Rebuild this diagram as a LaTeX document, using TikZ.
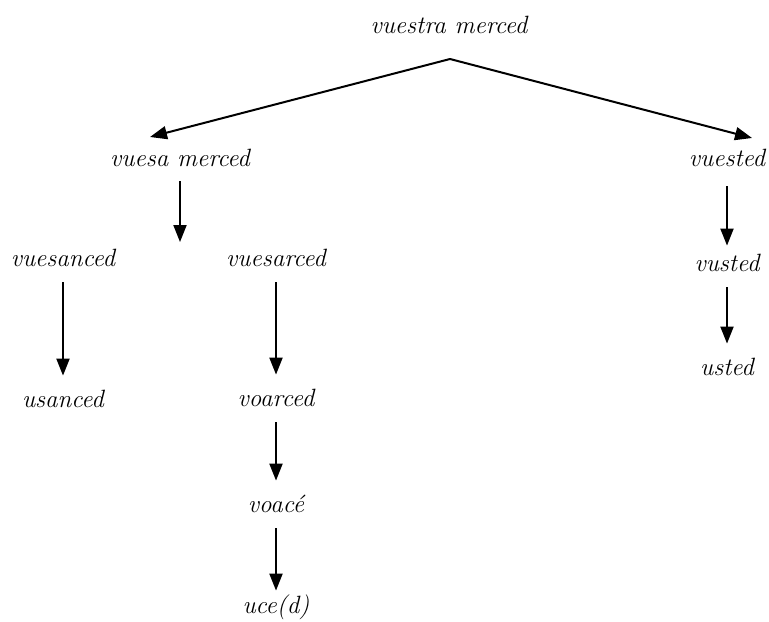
\documentclass[tikz,border=0pt]{standalone}
\usepackage{tikz}
\usetikzlibrary{arrows.meta}

\begin{document}
\begin{tikzpicture}[x=0.5pt, y=-0.5pt,
	word/.style={font=\itshape\fontsize{12.5}{15}\selectfont, inner sep=0pt, text height=8pt, text depth=2pt, anchor=base},
	tip/.style={-{Triangle[length=8.5pt, width=6.5pt]}, line width=1pt},
	down/.style={tip, shorten <=6pt, shorten >=7.5pt}]
	\useasboundingbox (0,0) rectangle (769,621);
	\foreach \n/\x/\y/\t in {top/449/33/{vuestra merced}, vuesa/180/166/{vuesa merced}, vuested/727/166/{vuested},
		vuesanced/63/266/{vuesanced}, vuesarced/276/266/{vuesarced}, usanced/63/407/{usanced},
		voarced/276/406/{voarced}, voace/276/512/{voacé}, uced/276/613/{uce(d)},
		vusted/727/271/{vusted}, usted/727/375/{usted}} {
		\node[word] (\n) at (\x,\y) {\t};
	}
	\coordinate (apex) at (450,59);
	\coordinate (left) at (150,137);
	\coordinate (right) at (752,138);
	\coordinate (split) at (180,257);
	\draw[tip] (apex) -- (left);
	\draw[tip] (apex) -- (right);
	\draw[down, shorten <=5.5pt] (vuesa) -- (split);
	\foreach \a/\b in {vuesanced/usanced, vuesarced/voarced, voarced/voace, vusted/usted}
		\draw[down] (\a) -- (\b);
	\draw[down, shorten >=3pt] (voace) -- (uced);
	\draw[down, shorten <=8pt, shorten >=4.5pt] (vuested) -- (vusted);
\end{tikzpicture}
\end{document}
